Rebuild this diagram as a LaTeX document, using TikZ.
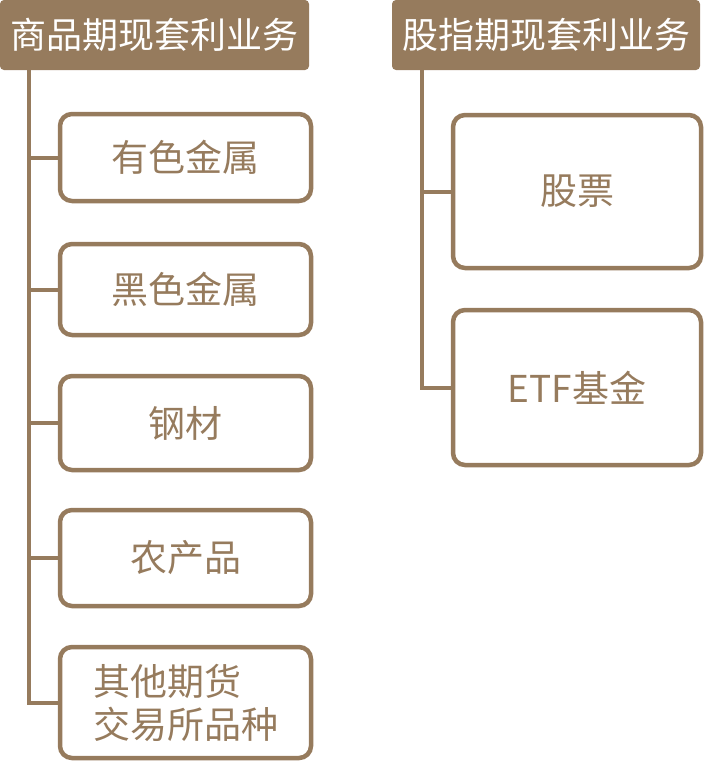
\documentclass[tikz,border=0pt]{standalone}
\usepackage{fontspec}
\setmainfont{Noto Sans CJK SC}
\definecolor{braun}{RGB}{150,123,93}
\begin{document}
\begin{tikzpicture}[x=1pt,y=-1pt,
  kopf/.style={fill=braun, text=white, rounded corners=4pt, inner sep=0pt, outer sep=0pt,
    minimum height=70pt, font=\fontsize{36}{42}\selectfont},
  feld/.style={draw=braun, line width=4.5pt, rounded corners=12pt, text=braun, inner sep=0pt,
    outer sep=0pt, font=\fontsize{37}{43}\selectfont},
  links/.style={feld, minimum width=251pt},
  rechts/.style={feld, minimum width=248pt},
  ast/.style={draw=braun, line width=4pt}]
\useasboundingbox (0,0) rectangle (705,763);

\node[kopf, minimum width=309pt] (kl) at (154.5,35) {商品期现套利业务};
\node[kopf, minimum width=308pt] (kr) at (546,35) {股指期现套利业务};

\node[links, minimum height=87pt] (b1) at (185.5,157.5) {有色金属};
\node[links, minimum height=91pt] (b2) at (185.5,289.5) {黑色金属};
\node[links, minimum height=94pt] (b3) at (185.5,423) {钢材};
\node[links, minimum height=96pt] (b4) at (185.5,558) {农产品};
\node[links, minimum height=111pt, align=left] (b5) at (185.5,702.5) {其他期货\\交易所品种};

\node[rechts, minimum height=153pt] (r1) at (577,191.5) {股票};
\node[rechts, minimum height=155pt] (r2) at (577,387.5) {ETF基金};

\coordinate (tl) at (kl.south -| 29,0);
\coordinate (tr) at (kr.south -| 422,0);
\foreach \n in {b1,b2,b3,b4,b5}
  \draw[ast] (tl) |- (\n.west);
\foreach \n in {r1,r2}
  \draw[ast] (tr) |- (\n.west);
\end{tikzpicture}
\end{document}
